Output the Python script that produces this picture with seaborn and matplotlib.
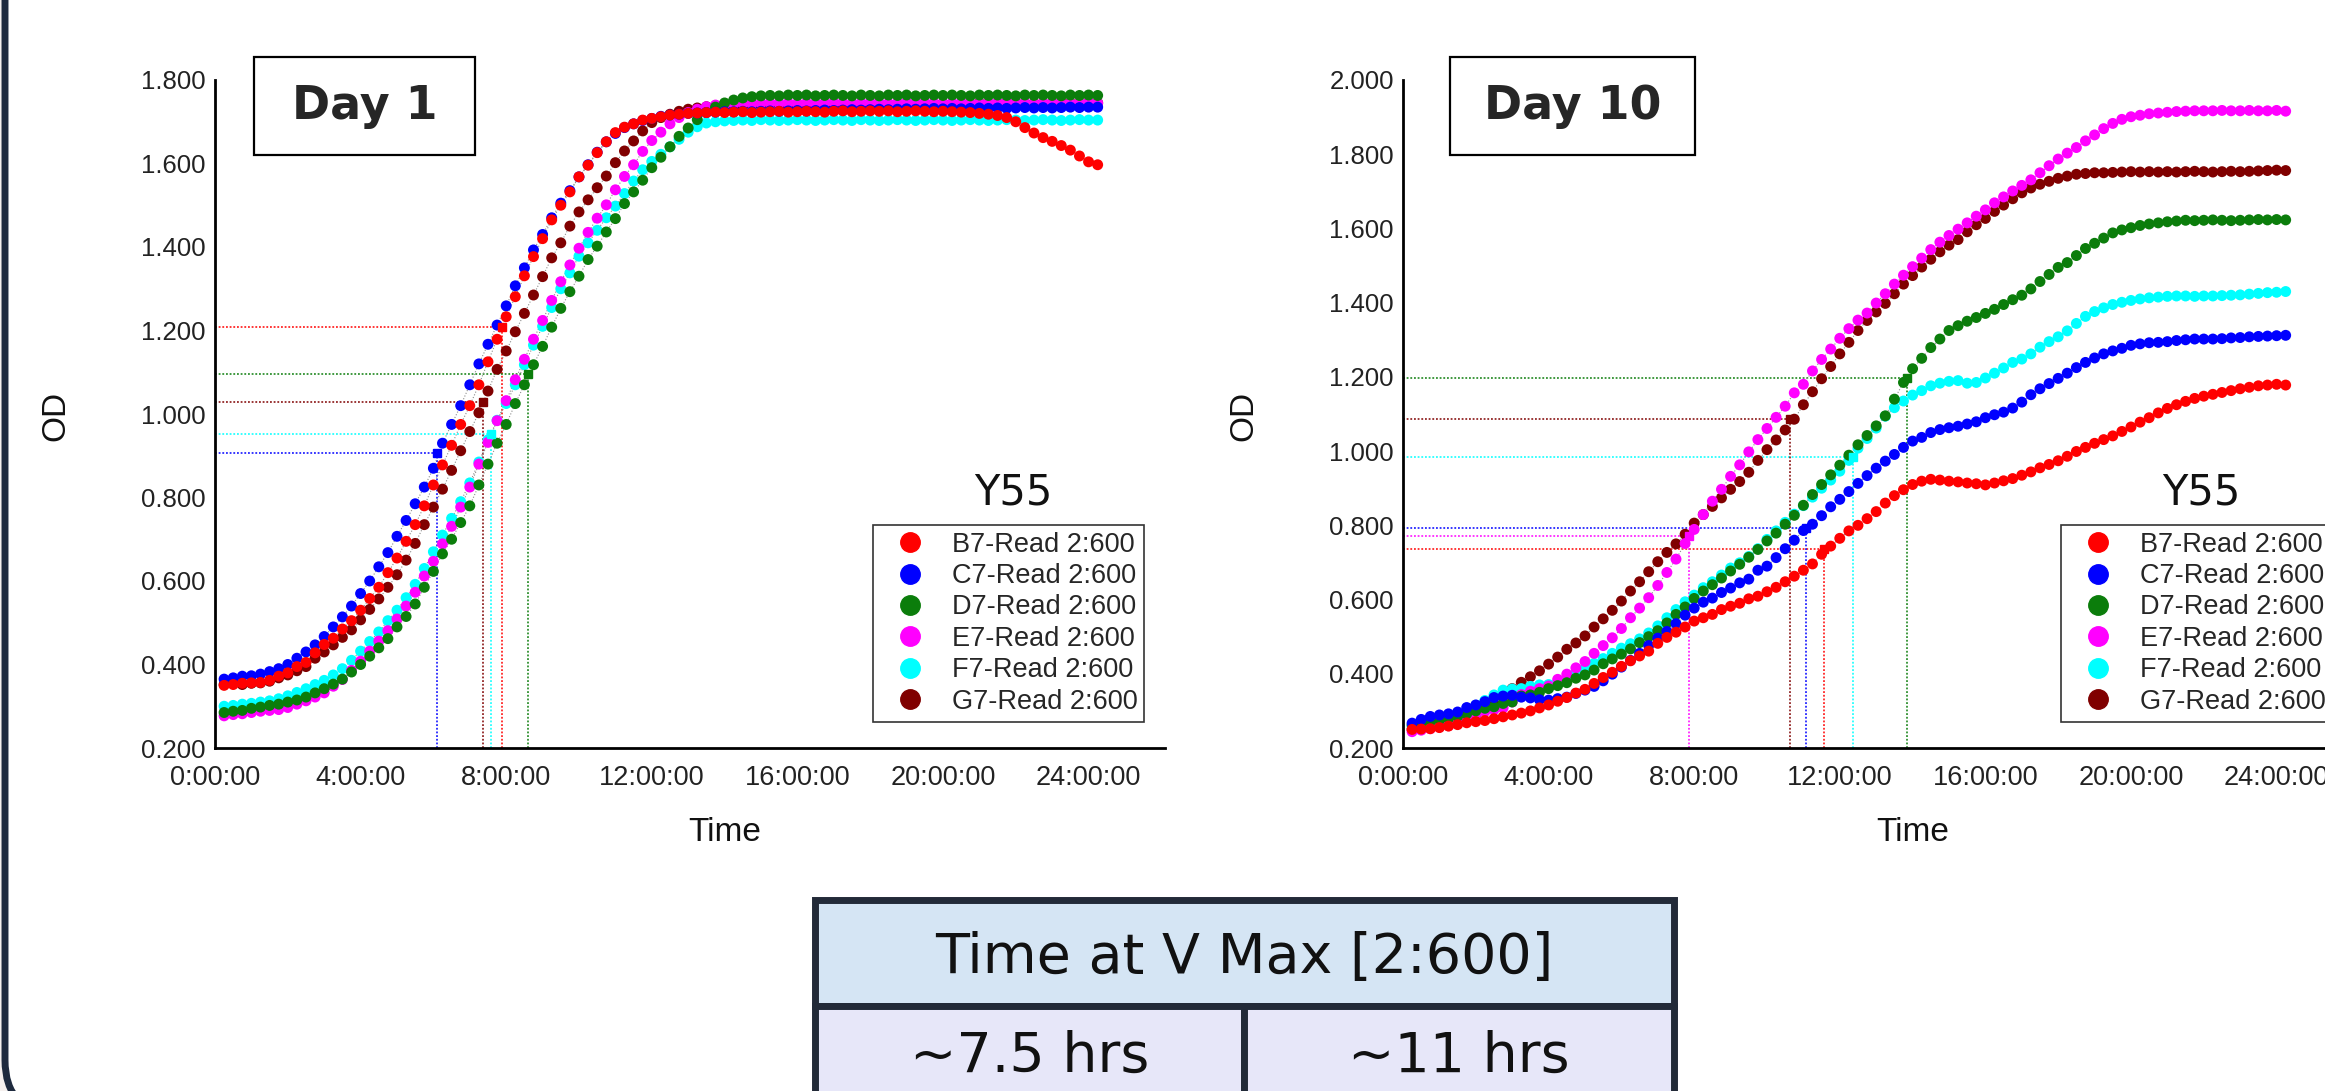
import numpy as np
import pandas as pd
import matplotlib
matplotlib.use("Agg")
import matplotlib.pyplot as plt
from matplotlib.patches import Rectangle, FancyBboxPatch
from matplotlib.lines import Line2D
from matplotlib.ticker import FuncFormatter
import seaborn as sns

# plate reader: one read every 15 min, first read at 0:15
READ_STEP_H = 0.25

wells = ["B7", "C7", "D7", "E7", "F7", "G7"]
well_colors = ["#ff0000", "#0000ff", "#0b7d0b", "#ff00ff", "#00ffff", "#800000"]

# ---------------- Day 1, OD600 ----------------
day1_b7 = [0.350, 0.352, 0.355, 0.356, 0.357, 0.362, 0.372, 0.380,
           0.395, 0.405, 0.428, 0.448, 0.463, 0.485, 0.505, 0.530,
           0.558, 0.585, 0.620, 0.655, 0.695, 0.735, 0.780, 0.830,
           0.878, 0.925, 0.975, 1.020, 1.070, 1.125, 1.179, 1.233,
           1.281, 1.331, 1.377, 1.420, 1.465, 1.500, 1.532, 1.568,
           1.596, 1.626, 1.652, 1.674, 1.687, 1.695, 1.704, 1.708,
           1.712, 1.716, 1.718, 1.720, 1.721, 1.722, 1.723, 1.722,
           1.723, 1.724, 1.722, 1.723, 1.724, 1.725, 1.723, 1.724,
           1.725, 1.724, 1.723, 1.725, 1.726, 1.724, 1.725, 1.726,
           1.725, 1.726, 1.724, 1.725, 1.726, 1.725, 1.724, 1.725,
           1.724, 1.723, 1.722, 1.720, 1.718, 1.715, 1.710, 1.700,
           1.686, 1.673, 1.662, 1.653, 1.643, 1.632, 1.618, 1.604,
           1.597]
day1_c7 = [0.365, 0.368, 0.372, 0.373, 0.377, 0.383, 0.390, 0.400,
           0.415, 0.430, 0.447, 0.467, 0.490, 0.514, 0.540, 0.570,
           0.600, 0.634, 0.668, 0.707, 0.745, 0.785, 0.825, 0.870,
           0.930, 0.975, 1.020, 1.070, 1.120, 1.167, 1.213, 1.259,
           1.307, 1.350, 1.393, 1.430, 1.470, 1.505, 1.535, 1.568,
           1.597, 1.627, 1.652, 1.672, 1.686, 1.695, 1.703, 1.708,
           1.713, 1.716, 1.718, 1.720, 1.721, 1.722, 1.723, 1.724,
           1.724, 1.725, 1.724, 1.725, 1.726, 1.725, 1.726, 1.727,
           1.726, 1.727, 1.728, 1.727, 1.728, 1.729, 1.728, 1.729,
           1.730, 1.729, 1.730, 1.731, 1.730, 1.731, 1.732, 1.731,
           1.732, 1.731, 1.732, 1.733, 1.732, 1.733, 1.732, 1.733,
           1.734, 1.733, 1.734, 1.733, 1.734, 1.735, 1.734, 1.735,
           1.735]
day1_d7 = [0.285, 0.288, 0.290, 0.295, 0.298, 0.302, 0.305, 0.310,
           0.315, 0.322, 0.332, 0.342, 0.353, 0.365, 0.382, 0.400,
           0.420, 0.440, 0.462, 0.490, 0.515, 0.545, 0.585, 0.623,
           0.665, 0.700, 0.740, 0.780, 0.830, 0.880, 0.930, 0.975,
           1.025, 1.070, 1.118, 1.162, 1.208, 1.253, 1.293, 1.330,
           1.370, 1.402, 1.436, 1.468, 1.504, 1.532, 1.560, 1.590,
           1.615, 1.640, 1.665, 1.685, 1.705, 1.722, 1.735, 1.745,
           1.752, 1.757, 1.760, 1.762, 1.763, 1.762, 1.764, 1.763,
           1.764, 1.762, 1.763, 1.764, 1.763, 1.762, 1.764, 1.763,
           1.762, 1.764, 1.763, 1.764, 1.762, 1.763, 1.764, 1.763,
           1.764, 1.763, 1.762, 1.764, 1.763, 1.764, 1.763, 1.762,
           1.764, 1.763, 1.764, 1.763, 1.762, 1.764, 1.763, 1.764,
           1.763]
day1_e7 = [0.277, 0.280, 0.282, 0.285, 0.288, 0.290, 0.292, 0.297,
           0.305, 0.313, 0.322, 0.332, 0.348, 0.364, 0.386, 0.408,
           0.432, 0.456, 0.481, 0.509, 0.540, 0.573, 0.612, 0.647,
           0.689, 0.731, 0.777, 0.825, 0.880, 0.932, 0.984, 1.032,
           1.082, 1.131, 1.179, 1.224, 1.272, 1.317, 1.357, 1.397,
           1.435, 1.469, 1.501, 1.537, 1.569, 1.597, 1.629, 1.655,
           1.675, 1.695, 1.710, 1.722, 1.730, 1.736, 1.740, 1.742,
           1.743, 1.744, 1.743, 1.744, 1.745, 1.744, 1.745, 1.744,
           1.745, 1.744, 1.745, 1.746, 1.745, 1.744, 1.745, 1.746,
           1.745, 1.744, 1.745, 1.746, 1.745, 1.746, 1.745, 1.744,
           1.745, 1.746, 1.745, 1.744, 1.745, 1.746, 1.745, 1.746,
           1.745, 1.744, 1.745, 1.746, 1.745, 1.744, 1.745, 1.746,
           1.745]
day1_f7 = [0.300, 0.302, 0.305, 0.307, 0.310, 0.313, 0.318, 0.325,
           0.333, 0.342, 0.352, 0.362, 0.375, 0.390, 0.410, 0.432,
           0.455, 0.478, 0.505, 0.530, 0.560, 0.592, 0.630, 0.670,
           0.710, 0.750, 0.790, 0.835, 0.885, 0.938, 0.985, 1.025,
           1.070, 1.118, 1.165, 1.210, 1.255, 1.300, 1.338, 1.378,
           1.410, 1.440, 1.470, 1.498, 1.528, 1.558, 1.585, 1.605,
           1.622, 1.640, 1.658, 1.675, 1.688, 1.697, 1.700, 1.702,
           1.703, 1.704, 1.703, 1.705, 1.704, 1.703, 1.704, 1.705,
           1.704, 1.703, 1.704, 1.705, 1.704, 1.703, 1.705, 1.704,
           1.703, 1.704, 1.705, 1.704, 1.703, 1.704, 1.705, 1.704,
           1.703, 1.704, 1.705, 1.704, 1.703, 1.704, 1.705, 1.704,
           1.703, 1.704, 1.705, 1.704, 1.703, 1.704, 1.705, 1.704,
           1.704]
day1_g7 = [0.352, 0.355, 0.352, 0.355, 0.356, 0.360, 0.368, 0.375,
           0.385, 0.395, 0.415, 0.430, 0.447, 0.465, 0.483, 0.507,
           0.532, 0.557, 0.585, 0.615, 0.650, 0.690, 0.735, 0.777,
           0.820, 0.865, 0.912, 0.958, 1.003, 1.055, 1.107, 1.151,
           1.197, 1.241, 1.285, 1.329, 1.374, 1.410, 1.450, 1.484,
           1.513, 1.542, 1.570, 1.602, 1.630, 1.654, 1.678, 1.698,
           1.710, 1.718, 1.725, 1.730, 1.733, 1.736, 1.738, 1.739,
           1.740, 1.739, 1.741, 1.740, 1.742, 1.741, 1.740, 1.742,
           1.741, 1.742, 1.741, 1.743, 1.742, 1.741, 1.743, 1.742,
           1.743, 1.742, 1.744, 1.743, 1.742, 1.744, 1.743, 1.744,
           1.743, 1.744, 1.743, 1.745, 1.744, 1.743, 1.745, 1.744,
           1.745, 1.744, 1.745, 1.744, 1.746, 1.745, 1.744, 1.746,
           1.745]

# ---------------- Day 10, OD600 ----------------
day10_b7 = [0.250, 0.251, 0.252, 0.255, 0.259, 0.263, 0.268, 0.271,
            0.274, 0.279, 0.284, 0.289, 0.294, 0.300, 0.308, 0.316,
            0.326, 0.336, 0.348, 0.358, 0.374, 0.390, 0.404, 0.420,
            0.435, 0.448, 0.461, 0.482, 0.498, 0.512, 0.526, 0.542,
            0.551, 0.560, 0.573, 0.582, 0.590, 0.602, 0.609, 0.621,
            0.633, 0.648, 0.663, 0.679, 0.696, 0.722, 0.744, 0.765,
            0.785, 0.800, 0.818, 0.837, 0.860, 0.880, 0.896, 0.910,
            0.919, 0.924, 0.922, 0.919, 0.917, 0.914, 0.912, 0.909,
            0.914, 0.920, 0.926, 0.935, 0.944, 0.955, 0.964, 0.974,
            0.986, 0.999, 1.010, 1.021, 1.031, 1.041, 1.053, 1.065,
            1.078, 1.090, 1.103, 1.115, 1.125, 1.134, 1.142, 1.148,
            1.153, 1.158, 1.163, 1.168, 1.172, 1.176, 1.178, 1.180,
            1.178]
day10_c7 = [0.267, 0.277, 0.285, 0.289, 0.292, 0.297, 0.309, 0.316,
            0.325, 0.336, 0.340, 0.342, 0.337, 0.335, 0.330, 0.329,
            0.333, 0.337, 0.347, 0.356, 0.366, 0.381, 0.399, 0.418,
            0.436, 0.455, 0.476, 0.496, 0.514, 0.535, 0.558, 0.577,
            0.593, 0.604, 0.619, 0.631, 0.645, 0.655, 0.679, 0.690,
            0.713, 0.737, 0.760, 0.786, 0.803, 0.826, 0.850, 0.870,
            0.891, 0.913, 0.934, 0.954, 0.973, 0.991, 1.010, 1.027,
            1.037, 1.050, 1.058, 1.063, 1.067, 1.073, 1.079, 1.090,
            1.098, 1.105, 1.116, 1.132, 1.152, 1.168, 1.182, 1.196,
            1.210, 1.225, 1.239, 1.251, 1.262, 1.270, 1.277, 1.285,
            1.289, 1.292, 1.293, 1.295, 1.298, 1.300, 1.302, 1.302,
            1.302, 1.303, 1.305, 1.306, 1.308, 1.309, 1.310, 1.311,
            1.312]
day10_d7 = [0.262, 0.268, 0.272, 0.276, 0.280, 0.285, 0.292, 0.300,
            0.307, 0.311, 0.320, 0.324, 0.340, 0.343, 0.350, 0.360,
            0.368, 0.376, 0.388, 0.397, 0.410, 0.427, 0.440, 0.453,
            0.467, 0.484, 0.500, 0.516, 0.537, 0.560, 0.580, 0.603,
            0.623, 0.640, 0.658, 0.677, 0.695, 0.714, 0.735, 0.758,
            0.779, 0.803, 0.827, 0.854, 0.883, 0.910, 0.936, 0.962,
            0.989, 1.017, 1.042, 1.068, 1.095, 1.140, 1.185, 1.222,
            1.250, 1.279, 1.302, 1.325, 1.338, 1.350, 1.360, 1.371,
            1.382, 1.395, 1.408, 1.420, 1.437, 1.457, 1.476, 1.495,
            1.508, 1.527, 1.546, 1.560, 1.574, 1.588, 1.596, 1.602,
            1.608, 1.612, 1.615, 1.618, 1.620, 1.622, 1.621, 1.622,
            1.623, 1.622, 1.621, 1.622, 1.623, 1.624, 1.623, 1.624,
            1.623]
day10_e7 = [0.244, 0.248, 0.252, 0.256, 0.260, 0.268, 0.280, 0.290,
            0.298, 0.303, 0.308, 0.324, 0.344, 0.353, 0.360, 0.367,
            0.385, 0.399, 0.416, 0.433, 0.455, 0.476, 0.497, 0.522,
            0.551, 0.577, 0.605, 0.638, 0.673, 0.709, 0.751, 0.789,
            0.829, 0.865, 0.897, 0.932, 0.963, 0.998, 1.031, 1.061,
            1.091, 1.121, 1.157, 1.180, 1.216, 1.247, 1.275, 1.304,
            1.330, 1.353, 1.372, 1.399, 1.424, 1.450, 1.474, 1.497,
            1.520, 1.543, 1.563, 1.581, 1.598, 1.615, 1.633, 1.650,
            1.669, 1.685, 1.701, 1.716, 1.731, 1.750, 1.769, 1.787,
            1.803, 1.818, 1.836, 1.852, 1.869, 1.883, 1.894, 1.901,
            1.905, 1.909, 1.911, 1.913, 1.915, 1.916, 1.917, 1.917,
            1.917, 1.918, 1.917, 1.917, 1.918, 1.917, 1.917, 1.918,
            1.916]
day10_f7 = [0.258, 0.265, 0.272, 0.278, 0.284, 0.292, 0.302, 0.315,
            0.328, 0.343, 0.356, 0.359, 0.360, 0.366, 0.370, 0.371,
            0.378, 0.389, 0.401, 0.414, 0.428, 0.441, 0.455, 0.469,
            0.481, 0.494, 0.510, 0.529, 0.551, 0.573, 0.594, 0.612,
            0.632, 0.648, 0.666, 0.685, 0.699, 0.716, 0.737, 0.762,
            0.785, 0.808, 0.830, 0.853, 0.876, 0.900, 0.922, 0.946,
            0.975, 1.008, 1.034, 1.062, 1.094, 1.117, 1.135, 1.151,
            1.163, 1.176, 1.183, 1.188, 1.190, 1.183, 1.185, 1.197,
            1.210, 1.224, 1.239, 1.248, 1.262, 1.280, 1.295, 1.308,
            1.324, 1.344, 1.363, 1.376, 1.386, 1.395, 1.401, 1.406,
            1.410, 1.413, 1.415, 1.417, 1.418, 1.418, 1.417, 1.418,
            1.418, 1.419, 1.420, 1.421, 1.423, 1.425, 1.427, 1.428,
            1.430]
day10_g7 = [0.250, 0.254, 0.258, 0.262, 0.267, 0.273, 0.281, 0.290,
            0.302, 0.318, 0.338, 0.360, 0.377, 0.392, 0.408, 0.426,
            0.445, 0.466, 0.483, 0.502, 0.526, 0.548, 0.571, 0.596,
            0.623, 0.648, 0.675, 0.702, 0.727, 0.750, 0.776, 0.806,
            0.829, 0.851, 0.874, 0.897, 0.918, 0.943, 0.975, 1.004,
            1.030, 1.057, 1.086, 1.125, 1.160, 1.195, 1.228, 1.262,
            1.293, 1.325, 1.352, 1.375, 1.398, 1.424, 1.450, 1.473,
            1.496, 1.517, 1.537, 1.555, 1.570, 1.591, 1.610, 1.627,
            1.646, 1.663, 1.680, 1.696, 1.709, 1.719, 1.727, 1.735,
            1.741, 1.746, 1.748, 1.750, 1.750, 1.751, 1.752, 1.753,
            1.752, 1.753, 1.752, 1.753, 1.752, 1.753, 1.754, 1.753,
            1.752, 1.753, 1.754, 1.753, 1.754, 1.755, 1.756, 1.757,
            1.756]

# time / OD at V max (dotted guide lines)
day1_vmax_wells = ["B7", "C7", "D7", "F7", "G7"]
day1_vmax_hours = [7.88, 6.11, 8.59, 7.57, 7.35]
day1_vmax_od = [1.209, 0.906, 1.096, 0.952, 1.028]
day10_vmax_wells = ["B7", "C7", "D7", "E7", "F7", "G7"]
day10_vmax_hours = [11.57, 11.07, 13.86, 7.86, 12.36, 10.63]
day10_vmax_od = [0.736, 0.792, 1.197, 0.770, 0.985, 1.086]

strain = "Y55"
table_header = "Time at V Max [2:600]"
table_values = ["~7.5 hrs", "~11 hrs"]

W, H = 2325, 1091
palette = dict(zip(wells, well_colors))


def long_frame(series):
    rows = []
    # G7 first so that B7 ends up drawn on top
    for well, vals in reversed(list(zip(wells, series))):
        for i, v in enumerate(vals):
            rows.append((well, (i + 1) * READ_STEP_H, v))
    return pd.DataFrame(rows, columns=["well", "hours", "od"])


def draw_panel(ax, series, vm_wells, vm_hours, vm_od, ytop, day_text, box_x, box_w):
    df = long_frame(series)
    ax.set_facecolor("none")

    for well, t, od in zip(vm_wells, vm_hours, vm_od):
        c = palette[well]
        ax.plot([0, t], [od, od], ls=(0, (1.2, 1.2)), color=c, lw=1.1, zorder=1)
        ax.plot([t, t], [0.2, od], ls=(0, (1.2, 1.2)), color=c, lw=1.1, zorder=1)
        ax.plot([t], [od], marker="s", ms=6, color=c, zorder=4)

    for well in wells:
        sub = df[df["well"] == well]
        ax.plot(sub["hours"], sub["od"], ls=":", color="#8c8c8c", lw=0.8, zorder=2)

    sns.scatterplot(data=df, x="hours", y="od", hue="well", palette=palette,
                    s=62, linewidth=0, legend=False, ax=ax, zorder=3)

    ax.set_xlim(0, 26.1)
    ax.set_ylim(0.2, ytop)
    ax.set_xticks([0, 4, 8, 12, 16, 20, 24])
    ax.xaxis.set_major_formatter(FuncFormatter(lambda v, p: f"{int(v)}:00:00"))
    ax.set_yticks(np.round(np.arange(0.2, ytop + 0.01, 0.2), 1))
    ax.yaxis.set_major_formatter(FuncFormatter(lambda v, p: f"{v:.3f}"))
    ax.set_xlabel("")
    ax.set_ylabel("")
    for side in ["top", "right"]:
        ax.spines[side].set_visible(False)
    for side in ["left", "bottom"]:
        ax.spines[side].set_linewidth(2)
        ax.spines[side].set_color("black")
    ax.tick_params(axis="x", length=8, width=2, labelsize=19.5, pad=4, colors="black",
                   labelcolor="#222222")
    ax.tick_params(axis="y", length=5, width=2, labelsize=18.5, pad=1.5, colors="black",
                   labelcolor="#222222")

    ax.text(0.537, -0.126, "Time", transform=ax.transAxes, ha="center", va="center",
            fontsize=24, color="#111111")
    ax.text(-0.168, 0.497, "OD", transform=ax.transAxes, ha="center", va="center",
            rotation=90, fontsize=24, color="#111111")

    ax.add_patch(Rectangle((box_x, 0.888), box_w, 0.1467, transform=ax.transAxes,
                           fc="white", ec="black", lw=1.6, clip_on=False, zorder=6))
    ax.text(box_x + box_w / 2, 0.961, day_text, transform=ax.transAxes, ha="center",
            va="center", fontsize=33, fontweight="bold", family="DejaVu Sans", zorder=7)

    ax.text(0.84, 0.382, strain, transform=ax.transAxes, ha="center", va="center",
            fontsize=30, family="DejaVu Sans", color="#111111")

    handles = [Line2D([], [], ls="none", marker="o", ms=14, mfc=c, mec=c) for c in well_colors]
    labels = [f"{w}-Read 2:600" for w in wells]
    leg = ax.legend(handles, labels, loc="upper left", bbox_to_anchor=(0.693, 0.334),
                    borderaxespad=0, frameon=True, fancybox=False, edgecolor="#333333",
                    framealpha=1, fontsize=19.5, handlelength=2.2, handletextpad=0.45,
                    borderpad=0.25, labelspacing=0.2)
    leg.get_frame().set_linewidth(1.2)


sns.set_style("white")
plt.rcParams["font.family"] = ["Liberation Sans", "DejaVu Sans"]

fig = plt.figure(figsize=(W / 100, H / 100), dpi=100, facecolor="#f5f0ee")

# slide frame (rounded corner at bottom left)
bg = fig.add_axes([0, 0, 1, 1], zorder=-1)
bg.set_xlim(0, W)
bg.set_ylim(H, 0)
bg.axis("off")
bg.add_patch(FancyBboxPatch((5, -200), 3000, 1313, boxstyle="round,pad=0,rounding_size=53",
                            fc="white", ec="#1e2a3e", lw=5))

ax1 = fig.add_axes([215 / W, (H - 748) / H, 950 / W, 668 / H])
draw_panel(ax1, [day1_b7, day1_c7, day1_d7, day1_e7, day1_f7, day1_g7],
           day1_vmax_wells, day1_vmax_hours, day1_vmax_od, 1.8, "Day 1", 0.041, 0.2326)

ax2 = fig.add_axes([1403 / W, (H - 748) / H, 950 / W, 668 / H])
draw_panel(ax2, [day10_b7, day10_c7, day10_d7, day10_e7, day10_f7, day10_g7],
           day10_vmax_wells, day10_vmax_hours, day10_vmax_od, 2.0, "Day 10", 0.0495, 0.258)

# summary table
ov = fig.add_axes([0, 0, 1, 1], zorder=5)
ov.set_xlim(0, W)
ov.set_ylim(H, 0)
ov.axis("off")
edge = "#222a38"
ov.add_patch(Rectangle((815, 900), 859, 106, fc="#d5e5f4", ec=edge, lw=5))
ov.add_patch(Rectangle((815, 1006), 429, 110, fc="#e7e7f9", ec=edge, lw=5))
ov.add_patch(Rectangle((1244, 1006), 430, 110, fc="#e7e7f9", ec=edge, lw=5))
ov.text(1244.5, 958, table_header, ha="center", va="center", fontsize=40,
        family="DejaVu Sans", color="#111111")
ov.text(1030, 1057, table_values[0], ha="center", va="center", fontsize=40,
        family="DejaVu Sans", color="#111111")
ov.text(1459, 1057, table_values[1], ha="center", va="center", fontsize=40,
        family="DejaVu Sans", color="#111111")

fig.savefig("out.png", dpi=100, facecolor=fig.get_facecolor())
